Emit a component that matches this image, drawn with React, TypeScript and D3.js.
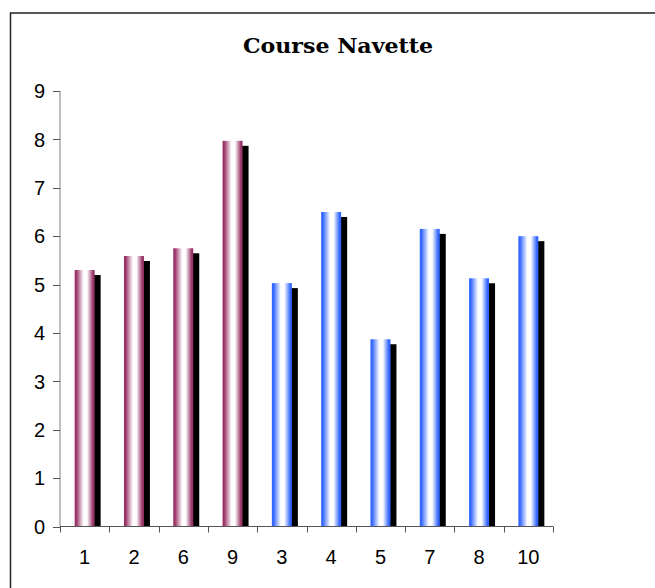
import React from "react";
import * as d3 from "d3";

// Course Navette results per runner
const categories = ["1", "2", "6", "9", "3", "4", "5", "7", "8", "10"];
const values = [5.3, 5.59, 5.75, 7.97, 5.03, 6.5, 3.87, 6.15, 5.13, 6.0];
// first four runners in one group, the rest in the other
const groups = ["a", "a", "a", "a", "b", "b", "b", "b", "b", "b"];
const yTicks = [0, 1, 2, 3, 4, 5, 6, 7, 8, 9];

const W = 655;
const H = 588;
const left = 60;
const right = 553;
const top = 91;
const bottom = 526.5;

const groupColor: Record<string, string> = { a: "#993366", b: "#3366ff" };

export default function App() {
  const x = d3.scaleBand<string>().domain(categories).range([left, right]);
  const y = d3.scaleLinear().domain([0, 9]).range([bottom, top]);
  const barW = 20;
  const shadowDx = 6;
  const shadowDy = 5;
  const edges = categories.map((c) => x(c)!).concat([right]);

  return (
    <svg
      width={W}
      height={H}
      style={{ position: "absolute", left: 0, top: 0, background: "#fff" }}
    >
      <defs>
        {Object.entries(groupColor).map(([k, c]) => (
          <linearGradient key={k} id={`grad-${k}`} x1="0" x2="1" y1="0" y2="0">
            <stop offset="0%" stopColor={c} />
            <stop offset="8%" stopColor={c} />
            <stop offset="45%" stopColor="#fff" />
            <stop offset="62%" stopColor="#fff" />
            <stop offset="92%" stopColor={c} />
            <stop offset="100%" stopColor={c} />
          </linearGradient>
        ))}
      </defs>

      {/* chart frame */}
      <rect x={10.5} y={13} width={700} height={700} fill="none" stroke="#222" strokeWidth={1.5} />

      <text
        x={338}
        y={53}
        textAnchor="middle"
        fontFamily="'DejaVu Serif', serif"
        fontWeight="bold"
        fontSize={20}
        textLength={190}
        lengthAdjust="spacingAndGlyphs"
        fill="#000"
      >
        Course Navette
      </text>

      {/* bars with drop shadow */}
      {categories.map((c, i) => {
        const cx = x(c)! + x.bandwidth() / 2;
        const bx = cx - barW / 2;
        const by = y(values[i]);
        return (
          <g key={c}>
            <rect
              x={bx + shadowDx}
              y={by + shadowDy}
              width={barW}
              height={bottom - by - shadowDy}
              fill="#000"
            />
            <rect x={bx} y={by} width={barW} height={bottom - by} fill={`url(#grad-${groups[i]})`} />
          </g>
        );
      })}

      {/* y axis */}
      <line x1={left} x2={left} y1={top} y2={bottom} stroke="#808080" strokeWidth={1} />
      {yTicks.map((t) => (
        <g key={t}>
          <line x1={left - 7} x2={left} y1={Math.round(y(t)) + 0.5} y2={Math.round(y(t)) + 0.5} stroke="#555" />
          <text
            x={45}
            y={y(t)}
            dy="0.36em"
            textAnchor="end"
            fontFamily="'Liberation Sans', Arial, sans-serif"
            fontSize={20}
            fill="#000"
          >
            {t}
          </text>
        </g>
      ))}

      {/* x axis */}
      <line x1={left} x2={right} y1={bottom} y2={bottom} stroke="#555" strokeWidth={1} />
      {edges.map((e, i) => (
        <line key={i} x1={Math.round(e) + 0.5} x2={Math.round(e) + 0.5} y1={bottom} y2={bottom + 6} stroke="#555" />
      ))}
      {categories.map((c) => (
        <text
          key={c}
          x={x(c)! + x.bandwidth() / 2}
          y={563.5}
          textAnchor="middle"
          fontFamily="'Liberation Sans', Arial, sans-serif"
          fontSize={20}
          fill="#000"
        >
          {c}
        </text>
      ))}
    </svg>
  );
}
